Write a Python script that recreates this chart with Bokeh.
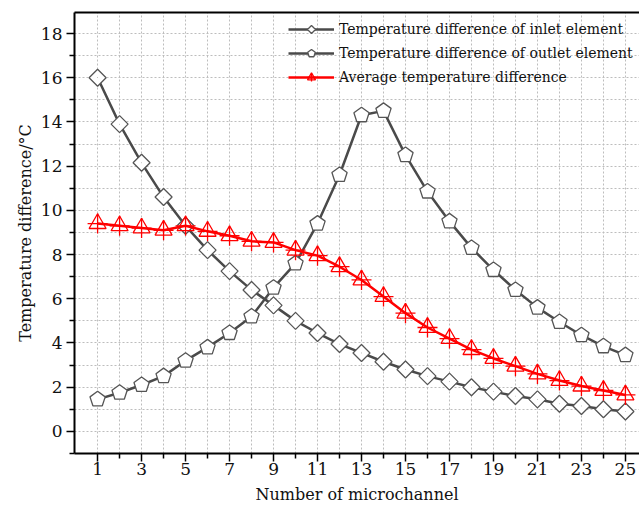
import numpy as np
from bokeh.plotting import figure
from bokeh.models import FixedTicker, Range1d, Legend, LegendItem, LinearAxis
from bokeh.embed import file_html
from bokeh.resources import INLINE

channel = list(range(1, 26))
inlet = [16.0, 13.9, 12.15, 10.6, 9.3, 8.2, 7.25, 6.4, 5.7, 5.0, 4.45, 3.95, 3.55,
         3.15, 2.8, 2.5, 2.25, 2.0, 1.8, 1.6, 1.45, 1.25, 1.15, 1.0, 0.9]
outlet = [1.45, 1.75, 2.1, 2.5, 3.2, 3.8, 4.45, 5.2, 6.5, 7.6, 9.4, 11.6, 14.3,
          14.5, 12.5, 10.85, 9.5, 8.3, 7.3, 6.4, 5.6, 4.95, 4.35, 3.85, 3.45]
average = [9.4, 9.3, 9.2, 9.1, 9.3, 9.05, 8.85, 8.6, 8.55, 8.2, 7.95, 7.45, 6.85,
           6.1, 5.35, 4.7, 4.2, 3.7, 3.3, 2.95, 2.6, 2.3, 2.05, 1.85, 1.65]
x_major = list(range(1, 26, 2))
x_minor = list(range(2, 25, 2))
y_major = list(range(0, 19, 2))
y_minor = list(range(-1, 20, 2))

labels = ["Temperature difference of inlet element",
          "Temperature difference of outlet element",
          "Average temperature difference"]

FONT = "DejaVu Serif"
GRAY = "#4a4a4a"
MK = "#555555"
RED = "#ff0000"

p = figure(width=639, height=508, output_backend="svg", toolbar_location=None,
           x_range=Range1d(-0.05, 25.64), y_range=Range1d(-1, 18.95),
           min_border_left=74, min_border_top=12, min_border_right=0, min_border_bottom=55)
p.outline_line_color = None
p.background_fill_color = "white"

bx = p.below[0]
ly = p.left[0]

top = LinearAxis(ticker=FixedTicker(ticks=[]), axis_line_width=2, axis_line_color="black",
                 major_tick_out=0, minor_tick_out=0, major_label_standoff=0,
                 major_label_text_font_size="0px")
p.add_layout(top, "above")

for ax in [bx, ly]:
    ax.axis_line_width = 2
    ax.axis_line_color = "black"
    ax.major_tick_line_width = 1.5
    ax.minor_tick_line_width = 1.5
    ax.major_tick_out = 8
    ax.major_tick_in = 0
    ax.minor_tick_out = 5
    ax.minor_tick_in = 0
    ax.major_label_text_font = FONT
    ax.major_label_text_font_size = "17px"
    ax.major_label_text_color = "#111111"
    ax.axis_label_text_font = FONT
    ax.axis_label_text_font_size = "16px"
    ax.axis_label_text_font_style = "normal"
    ax.axis_label_text_color = "#111111"

bx.ticker = FixedTicker(ticks=x_major, minor_ticks=x_minor)
ly.ticker = FixedTicker(ticks=y_major, minor_ticks=y_minor)
bx.axis_label = "Number of microchannel"
ly.axis_label = "Temperature difference/°C"
bx.major_label_standoff = 1
bx.axis_label_standoff = 7
ly.major_label_standoff = 4
ly.axis_label_standoff = 3

for g in [p.xgrid[0], p.ygrid[0]]:
    g.grid_line_color = "#bdbdbd"
    g.grid_line_dash = "2 2"
    g.grid_line_width = 1
    g.minor_grid_line_color = "#bdbdbd"
    g.minor_grid_line_dash = "2 2"
    g.minor_grid_line_width = 1
p.xgrid[0].ticker = bx.ticker
p.ygrid[0].ticker = ly.ticker

l1 = p.line(channel, inlet, line_color=GRAY, line_width=2.5)
m1 = p.ngon(channel, inlet, radius=8.5, radius_units="screen", n=4, angle=0,
            fill_color="white", line_color=MK, line_width=1.3)
d1 = p.scatter(channel, inlet, marker="dot", size=3, line_color=MK)

l2 = p.line(channel, outlet, line_color=GRAY, line_width=2.5)
m2 = p.ngon(channel, outlet, radius=8, radius_units="screen", n=5, angle=0,
            fill_color="white", line_color=MK, line_width=1.3)

l3 = p.line(channel, average, line_color=RED, line_width=2.5)
m3 = p.scatter(channel, average, marker="triangle", size=17,
               fill_color=None, line_color=RED, line_width=1.3)
m3b = p.scatter(channel, average, marker="cross", size=20,
                line_color=RED, line_width=1.3)

legend = Legend(items=[LegendItem(label=labels[0], renderers=[l1, m1]),
                       LegendItem(label=labels[1], renderers=[l2, m2]),
                       LegendItem(label=labels[2], renderers=[l3, m3, m3b])],
                location=(214, 366))
legend.border_line_color = None
legend.background_fill_alpha = 0
legend.label_text_font = FONT
legend.label_text_font_size = "14px"
legend.label_text_color = "#111111"
legend.glyph_width = 46
legend.glyph_height = 20
legend.label_standoff = 5
legend.spacing = 4
legend.padding = 2
legend.margin = 0
p.add_layout(legend)

open("out.html", "w").write(file_html(p, INLINE))
